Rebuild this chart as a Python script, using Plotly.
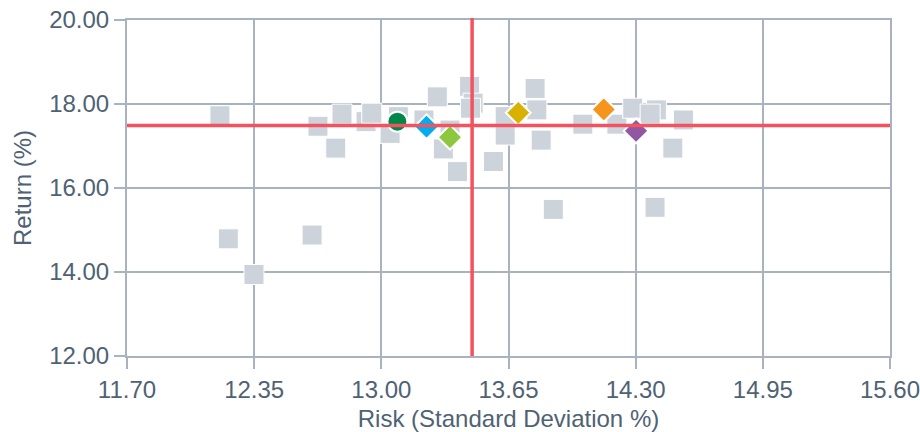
import plotly.graph_objects as go

# Peer universe (grey squares)
peer_risk = [12.175, 12.218, 12.349, 12.646, 12.676, 12.767, 12.799, 12.922, 12.951,
             13.045, 13.087, 13.218, 13.286, 13.351, 13.317, 13.389, 13.451, 13.469,
             13.456, 13.573, 13.633, 13.633, 13.786, 13.795, 13.817, 13.879, 14.030,
             14.204, 14.285, 14.406, 14.374, 14.544, 14.490, 14.399]
peer_return = [17.72, 14.79, 13.94, 14.88, 17.47, 16.95, 17.76, 17.58, 17.78,
               17.30, 17.70, 17.62, 18.17, 17.38, 16.93, 16.39, 18.42, 18.02,
               17.90, 16.63, 17.70, 17.26, 18.37, 17.86, 17.14, 15.49, 17.52,
               17.52, 17.90, 17.86, 17.76, 17.62, 16.95, 15.54]

# Highlighted funds
hl_risk = [13.082, 13.231, 13.351, 13.700, 14.137, 14.302]
hl_return = [17.58, 17.46, 17.21, 17.79, 17.87, 17.36]
hl_symbols = ["circle", "diamond", "diamond", "diamond", "diamond", "diamond"]
hl_colors = ["#00874a", "#00adef", "#8dc63f", "#d9b200", "#f7941d", "#9157a3"]

# Reference lines (median risk / median return)
median_risk = 13.464
median_return = 17.49

x_ticks = [11.70, 12.35, 13.00, 13.65, 14.30, 14.95, 15.60]
y_ticks = [12.00, 14.00, 16.00, 18.00, 20.00]

grid_col = "#a9b3bf"
text_col = "#4f6274"
red = "#f4525f"

fig = go.Figure()
fig.add_trace(go.Scatter(
    x=peer_risk, y=peer_return, mode="markers",
    marker=dict(symbol="square", size=20, color="#cdd3db",
                line=dict(color="#ffffff", width=1)),
    hoverinfo="x+y"))

for xr, yr, sym, col in zip(hl_risk, hl_return, hl_symbols, hl_colors):
    fig.add_trace(go.Scatter(
        x=[xr], y=[yr], mode="markers",
        marker=dict(symbol=sym, size=20 if sym == "circle" else 19, color=col,
                    line=dict(color="#ffffff", width=2))))

fig.add_shape(type="line", xref="x", yref="paper", x0=median_risk, x1=median_risk,
              y0=0, y1=1.006, line=dict(color=red, width=3.5), layer="above")
fig.add_shape(type="line", xref="paper", yref="y", x0=0, x1=1,
              y0=median_return, y1=median_return, line=dict(color=red, width=3.5),
              layer="above")

axis_common = dict(
    showgrid=True, gridcolor=grid_col, gridwidth=2,
    showline=True, linecolor=grid_col, linewidth=2, mirror=True,
    ticks="outside", ticklen=11, tickwidth=2, tickcolor=grid_col,
    zeroline=False, automargin=False, ticklabeloverflow="allow",
    tickfont=dict(family="Arial, Liberation Sans", size=24, color=text_col),
)

fig.update_layout(
    width=920, height=432,
    margin=dict(l=127, r=30, t=20, b=76),
    paper_bgcolor="white", plot_bgcolor="white",
    showlegend=False,
    font=dict(family="Arial, Liberation Sans", size=24, color=text_col),
    xaxis=dict(range=[11.70, 15.60], tickvals=x_ticks,
               ticktext=[f"{v:.2f}" for v in x_ticks],
               title=dict(text="Risk (Standard Deviation %)", standoff=8,
                          font=dict(size=24, color=text_col)),
               **axis_common),
    yaxis=dict(range=[12.00, 20.00], tickvals=y_ticks,
               ticktext=[f"{v:.2f}" for v in y_ticks],
               title=dict(text="Return (%)", standoff=11,
                          font=dict(size=24, color=text_col)),
               **axis_common),
)

# Remove the browser's default body margin so the figure fills the window exactly.
fig.write_html("out.html",
               config={"displayModeBar": False},
               post_script="document.body.style.margin='0';document.body.style.overflow='hidden';")
